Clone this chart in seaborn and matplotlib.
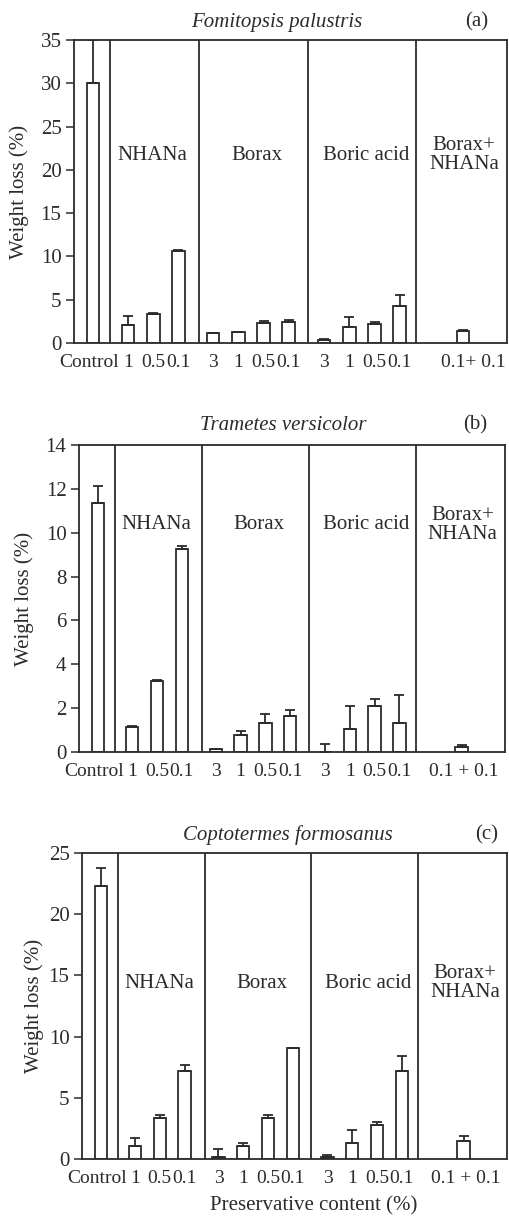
import matplotlib.pyplot as plt
import matplotlib.transforms as mtransforms
import numpy as np
import pandas as pd
import seaborn as sns

# shared x categories (same order in every panel)
treatment = ["Control", "NHANa", "NHANa", "NHANa",
             "Borax", "Borax", "Borax", "Borax",
             "Boric acid", "Boric acid", "Boric acid", "Boric acid",
             "Borax+NHANa"]
content = ["Control", "1", "0.5", "0.1", "3", "1", "0.5", "0.1",
           "3", "1", "0.5", "0.1", "0.1 + 0.1"]

# weight loss (%), mean and upper error
fomitopsis_mean = [30.0, 2.1, 3.4, 10.6, 1.15, 1.27, 2.3, 2.4, 0.35, 1.8, 2.2, 4.3, 1.35]
fomitopsis_err = [5.0, 1.0, 0.1, 0.1, 0.05, 0.05, 0.2, 0.2, 0.15, 1.2, 0.2, 1.2, 0.15]
trametes_mean = [11.34, 1.14, 3.24, 9.25, 0.12, 0.76, 1.34, 1.63, 0.02, 1.07, 2.08, 1.34, 0.23]
trametes_err = [0.81, 0.06, 0.03, 0.15, 0.03, 0.2, 0.41, 0.3, 0.33, 1.01, 0.35, 1.25, 0.1]
coptotermes_mean = [22.3, 1.03, 3.34, 7.15, 0.2, 1.03, 3.34, 9.05, 0.2, 1.3, 2.8, 7.2, 1.5]
coptotermes_err = [1.5, 0.68, 0.26, 0.55, 0.6, 0.27, 0.26, 0.05, 0.15, 1.1, 0.2, 1.2, 0.35]

group_labels = ["NHANa", "Borax", "Boric acid", "Borax+\nNHANa"]

# -----------------------------
# layout (not data)
# -----------------------------
group_start = {"Control": 0.0, "NHANa": 1.38, "Borax": 4.75,
               "Boric acid": 9.15, "Borax+NHANa": 14.65}
dividers = [0.68, 4.2, 8.5, 12.8]
group_label_x = [2.35, 6.5, 10.8, 14.7]
W, H = 509, 1218
ink = "#2b2b2b"

panels = [
    dict(title="Fomitopsis palustris", tag="(a)", mean=fomitopsis_mean, err=fomitopsis_err,
         rect=(74, 40, 507, 343), ymax=35, ystep=5, label_y=0.62, ylab_x=29,
         title_xy=(277, 22), tag_xy=(477, 22), combo="0.1+ 0.1", combo_shift=10),
    dict(title="Trametes versicolor", tag="(b)", mean=trametes_mean, err=trametes_err,
         rect=(79, 445, 505, 752), ymax=14, ystep=2, label_y=0.74, ylab_x=34,
         title_xy=(283, 425), tag_xy=(475, 425), combo="0.1 + 0.1", combo_shift=2),
    dict(title="Coptotermes formosanus", tag="(c)", mean=coptotermes_mean, err=coptotermes_err,
         rect=(82, 853, 507, 1159), ymax=25, ystep=5, label_y=0.575, ylab_x=44,
         title_xy=(288, 835), tag_xy=(487, 835), combo="0.1 + 0.1", combo_shift=2),
]

sns.set_style("ticks")
plt.rcParams["font.family"] = ["Liberation Serif", "DejaVu Serif"]
plt.rcParams["text.color"] = ink
plt.rcParams["axes.labelcolor"] = ink
plt.rcParams["xtick.color"] = ink
plt.rcParams["ytick.color"] = ink

fig = plt.figure(figsize=(W / 100, H / 100), dpi=100)
fig.patch.set_facecolor("white")

for p in panels:
    df = pd.DataFrame({"treatment": treatment, "content": content,
                       "mean": p["mean"], "err": p["err"]})
    df["pos"] = df.groupby("treatment", sort=False).cumcount() + df["treatment"].map(group_start)

    l, t, r, b = p["rect"]
    ax = fig.add_axes([l / W, 1 - b / H, (r - l) / W, (b - t) / H])

    sns.barplot(data=df, x="pos", y="mean", native_scale=True, width=0.5,
                color="white", edgecolor=ink, linewidth=1.3, errorbar=None, ax=ax)
    ax.errorbar(df["pos"], df["mean"], yerr=[np.zeros(len(df)), df["err"]],
                fmt="none", ecolor=ink, elinewidth=1.3, capsize=3.5, capthick=1.3)

    for d in dividers:
        ax.axvline(d, color=ink, lw=1.3)

    ax.set_xlim(-0.76, 16.4)
    ax.set_ylim(0, p["ymax"])
    ax.set_yticks(np.arange(0, p["ymax"] + 0.1, p["ystep"]))
    labels = list(df["content"])
    labels[-1] = p["combo"]
    ax.set_xticks(df["pos"])
    ax.set_xticklabels(labels)
    ax.tick_params(axis="x", length=0, pad=8, labelsize=14)
    ax.tick_params(axis="y", length=6, width=1.1, pad=3, labelsize=15)
    for s in ax.spines.values():
        s.set_visible(True)
        s.set_color(ink)
        s.set_linewidth(1.3)

    # nudge the crowded first and last x labels as in the original
    ticklabels = ax.get_xticklabels()
    ticklabels[0].set_transform(ticklabels[0].get_transform()
                                + mtransforms.ScaledTranslation(-4 / 100, 0, fig.dpi_scale_trans))
    ticklabels[-1].set_transform(ticklabels[-1].get_transform()
                                 + mtransforms.ScaledTranslation(p["combo_shift"] / 100, 0,
                                                                 fig.dpi_scale_trans))

    ax.set_xlabel("")
    ax.set_ylabel("Weight loss (%)", fontsize=15)
    ax.yaxis.set_label_coords((p["ylab_x"] - l) / (r - l), 0.5)

    for gx, gl in zip(group_label_x, group_labels):
        ax.text(gx, p["label_y"], gl, transform=ax.get_xaxis_transform(),
                ha="center", va="center", fontsize=15, linespacing=1.0)

    fig.text(p["title_xy"][0] / W, 1 - p["title_xy"][1] / H, p["title"],
             ha="center", va="center", fontsize=15, style="italic")
    fig.text(p["tag_xy"][0] / W, 1 - p["tag_xy"][1] / H, p["tag"],
             ha="center", va="center", fontsize=15)

fig.text(314 / W, 1 - 1206 / H, "Preservative content (%)",
         ha="center", va="center", fontsize=15)

fig.savefig("out.png", dpi=100)
